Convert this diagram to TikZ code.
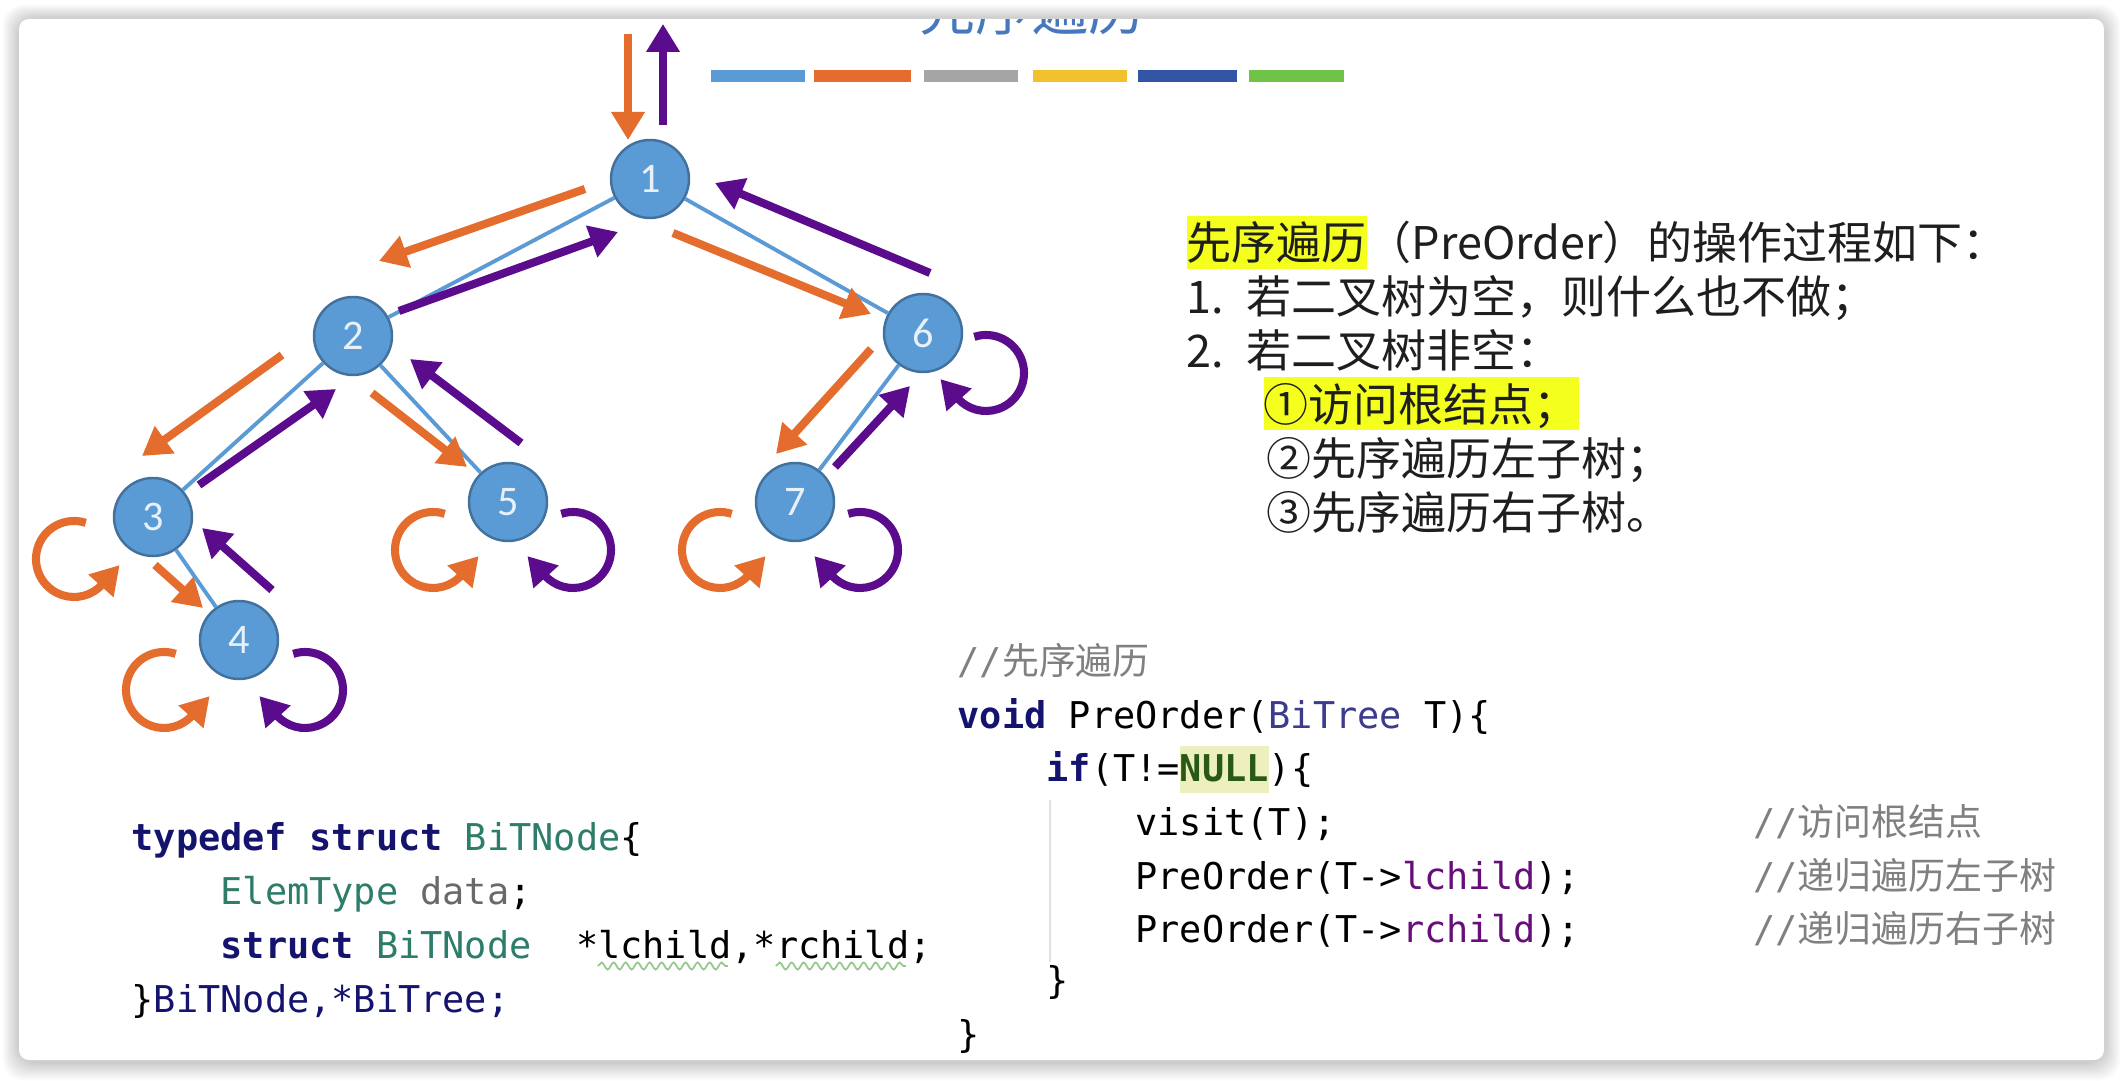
\documentclass[tikz,border=0pt]{standalone}
\usepackage{fontspec}
\setmainfont{Noto Sans CJK SC}
\setmonofont{DejaVu Sans Mono}
\newfontfamily\cjkfont{Noto Sans CJK SC}
\newfontfamily\numfont{Carlito}
\usepackage{xcolor}
\usetikzlibrary{arrows.meta, positioning, calc, decorations.pathmorphing}

\definecolor{nodeblue}{RGB}{91,155,213}
\definecolor{nodeline}{RGB}{65,113,156}
\definecolor{nodetext}{RGB}{232,241,250}
\definecolor{goorange}{RGB}{228,108,45}
\definecolor{backpurple}{RGB}{90,12,140}
\definecolor{hilite}{RGB}{245,255,30}
\definecolor{textblack}{RGB}{30,30,30}
\definecolor{kwnavy}{RGB}{20,20,110}
\definecolor{typeteal}{RGB}{46,125,107}
\definecolor{typeslate}{RGB}{60,60,140}
\definecolor{datagray}{RGB}{105,105,105}
\definecolor{fieldpurple}{RGB}{102,14,122}
\definecolor{nullgreen}{RGB}{40,90,20}
\definecolor{nullback}{RGB}{237,239,190}
\definecolor{cmtgray}{RGB}{128,128,128}
\definecolor{guidegray}{RGB}{225,225,225}
\definecolor{squiggly}{RGB}{150,200,140}
\definecolor{titleblue}{RGB}{70,120,190}
\definecolor{barblue}{RGB}{91,155,213}
\definecolor{barorange}{RGB}{228,108,45}
\definecolor{bargray}{RGB}{165,165,165}
\definecolor{baryellow}{RGB}{242,193,46}
\definecolor{bardark}{RGB}{50,85,165}
\definecolor{bargreen}{RGB}{110,195,72}

\newcommand{\yhl}[1]{{\setlength{\fboxsep}{0pt}\colorbox{hilite}{\rule[-0.9mm]{0pt}{5.3mm}#1}}}
\newcommand{\nullhl}[1]{{\setlength{\fboxsep}{0pt}\colorbox{nullback}{\rule[-1.1mm]{0pt}{4.7mm}#1}}}

\begin{document}
\begin{tikzpicture}[>={Triangle[length=2.8mm,width=3.2mm]}]
 \tikzstyle{treenode}=[circle,fill=nodeblue,draw=nodeline,line width=0.7pt,
   minimum size=7.8mm,inner sep=0pt,text=nodetext,
   font=\numfont\fontsize{12}{12}\selectfont]
 \tikzstyle{branch}=[draw=nodeblue,line width=1.1pt]
 \tikzstyle{godown}=[->,draw=goorange,line width=2.3pt]
 \tikzstyle{goup}=[->,draw=backpurple,line width=2.3pt]
 \tikzstyle{txt}=[anchor=base west,inner sep=0pt,text=textblack,
   font=\fontsize{12.8}{15}\selectfont]
 \tikzstyle{code}=[anchor=base west,inner sep=0pt,text=black,
   font=\ttfamily\fontsize{10.5}{12}\selectfont]
 \tikzstyle{comment}=[code,text=cmtgray]

 \useasboundingbox (0,0) rectangle (21.23,10.80);
 \fill[white] (0,0) rectangle (21.23,10.80);
 % slide panel with soft shadow
 \foreach \i in {1,...,10}
   \fill[black,opacity=0.02,rounded corners=2mm]
     (0.19-0.016*\i,0.18-0.018*\i) rectangle (21.04+0.016*\i,10.61+0.014*\i);
 \fill[white,rounded corners=1mm] (0.19,0.20) rectangle (21.04,10.61);
 \begin{scope}
  \clip[rounded corners=1mm] (0.19,0.20) rectangle (21.04,10.61);
  \node (title) [anchor=base,text=titleblue,font=\fontsize{16}{16}\selectfont]
    at (10.32,10.49) {先序遍历};
 \end{scope}

 % colour bars under the title
 \fill[barblue]   (7.11,9.98) rectangle (8.05,10.10);
 \fill[barorange] (8.14,9.98) rectangle (9.11,10.10);
 \fill[bargray]   (9.24,9.98) rectangle (10.18,10.10);
 \fill[baryellow] (10.33,9.98) rectangle (11.27,10.10);
 \fill[bardark]   (11.38,9.98) rectangle (12.37,10.10);
 \fill[bargreen]  (12.49,9.98) rectangle (13.44,10.10);

 % the tree
 \node (n1) [treenode] at (6.50,9.01) {1};
 \node (n2) [treenode] at (3.53,7.44) {2};
 \node (n6) [treenode] at (9.23,7.47) {6};
 \node (n3) [treenode] at (1.53,5.63) {3};
 \node (n5) [treenode] at (5.08,5.78) {5};
 \node (n7) [treenode] at (7.95,5.78) {7};
 \node (n4) [treenode] at (2.39,4.40) {4};
 \draw[branch] (n1) -- (n2);
 \draw[branch] (n1) -- (n6);
 \draw[branch] (n2) -- (n3);
 \draw[branch] (n2) -- (n5);
 \draw[branch] (n3) -- (n4);
 \draw[branch] (n6) -- (n7);

 % walk down (orange) and back up (purple)
 \draw[godown] ([shift={(-0.22,1.45)}]n1.center) -- ([shift={(-0.22,0.39)}]n1.center);
 \draw[goup] ([shift={(0.13,0.54)}]n1.center) -- ([shift={(0.13,1.55)}]n1.center);
 \draw[godown] ([shift={(-0.65,-0.10)}]n1.center) -- ([shift={(0.26,0.75)}]n2.center);
 \draw[goup] ([shift={(0.46,0.25)}]n2.center) -- ([shift={(-0.32,-0.53)}]n1.center);
 \draw[godown] ([shift={(0.23,-0.54)}]n1.center) -- ([shift={(-0.52,0.19)}]n6.center);
 \draw[goup] ([shift={(0.07,0.60)}]n6.center) -- ([shift={(0.65,-0.04)}]n1.center);
 \draw[godown] ([shift={(-0.71,-0.19)}]n2.center) -- ([shift={(-0.11,0.61)}]n3.center);
 \draw[goup] ([shift={(0.46,0.32)}]n3.center) -- ([shift={(-0.17,-0.53)}]n2.center);
 \draw[godown] ([shift={(0.19,-0.57)}]n2.center) -- ([shift={(-0.41,0.35)}]n5.center);
 \draw[goup] ([shift={(0.13,0.59)}]n5.center) -- ([shift={(0.57,-0.23)}]n2.center);
 \draw[godown] ([shift={(-0.52,-0.16)}]n6.center) -- ([shift={(-0.19,0.48)}]n7.center);
 \draw[goup] ([shift={(0.40,0.35)}]n7.center) -- ([shift={(-0.13,-0.53)}]n6.center);
 \draw[godown] ([shift={(0.02,-0.48)}]n3.center) -- ([shift={(-0.36,0.32)}]n4.center);
 \draw[goup] ([shift={(0.33,0.50)}]n4.center) -- ([shift={(0.49,-0.11)}]n3.center);

 % empty subtrees: turn round
 \draw[godown] ([shift={(-0.79,-0.42)}]n3.center) ++(72:0.38)
   arc[start angle=72,end angle=318,radius=0.38] -- ++(48:0.26);
 \draw[godown] ([shift={(-0.75,-0.50)}]n4.center) ++(72:0.38)
   arc[start angle=72,end angle=318,radius=0.38] -- ++(48:0.26);
 \draw[goup] ([shift={(0.66,-0.50)}]n4.center) ++(108:0.38)
   arc[start angle=108,end angle=-138,radius=0.38] -- ++(132:0.26);
 \draw[godown] ([shift={(-0.75,-0.48)}]n5.center) ++(72:0.38)
   arc[start angle=72,end angle=318,radius=0.38] -- ++(48:0.26);
 \draw[goup] ([shift={(0.65,-0.48)}]n5.center) ++(108:0.38)
   arc[start angle=108,end angle=-138,radius=0.38] -- ++(132:0.26);
 \draw[goup] ([shift={(0.63,-0.40)}]n6.center) ++(108:0.38)
   arc[start angle=108,end angle=-138,radius=0.38] -- ++(132:0.26);
 \draw[godown] ([shift={(-0.75,-0.48)}]n7.center) ++(72:0.38)
   arc[start angle=72,end angle=318,radius=0.38] -- ++(48:0.26);
 \draw[goup] ([shift={(0.65,-0.48)}]n7.center) ++(108:0.38)
   arc[start angle=108,end angle=-138,radius=0.38] -- ++(132:0.26);

 % the steps
 \node (head) [txt] at (11.86,8.20) {\yhl{先序遍历}（PreOrder）的操作过程如下：};
 \node (step1) [txt] at ([yshift=-5.4mm]head.base west)
   {\makebox[6mm][l]{1.}若二叉树为空，则什么也不做；};
 \node (step2) [txt] at ([yshift=-5.4mm]step1.base west)
   {\makebox[6mm][l]{2.}若二叉树非空：};
 \node (visit) [txt] at ([xshift=7.7mm,yshift=-5.35mm]step2.base west)
   {\yhl{①访问根结点；}};
 \node (left) [txt] at ([xshift=0.3mm,yshift=-5.4mm]visit.base west)
   {②先序遍历左子树；};
 \node (right) [txt] at ([yshift=-5.4mm]left.base west)
   {③先序遍历右子树。};

 % the function
 \node (cmt) [comment] at (9.57,4.05) {//{\cjkfont 先序遍历}};
 \node (fn) [code] at ([yshift=-5.35mm]cmt.base west)
   {{\bfseries\color{kwnavy}void} PreOrder({\color{typeslate}BiTree} T)\{};
 \node (ifl) [code] at ([xshift=8.89mm,yshift=-5.35mm]fn.base west)
   {{\bfseries\color{kwnavy}if}(T!=\nullhl{\bfseries\color{nullgreen}NULL})\{};
 \node (vis) [code] at ([xshift=8.89mm,yshift=-5.35mm]ifl.base west) {visit(T);};
 \node (lc) [code] at ([yshift=-5.35mm]vis.base west)
   {PreOrder(T->{\color{fieldpurple}lchild});};
 \node (rc) [code] at ([yshift=-5.35mm]lc.base west)
   {PreOrder(T->{\color{fieldpurple}rchild});};
 \node (cl1) [code] at ([xshift=-8.89mm,yshift=-5.1mm]rc.base west) {\}};
 \node (cl2) [code] at ([xshift=-8.89mm,yshift=-5.4mm]cl1.base west) {\}};
 \node (cmv) [comment] at ([xshift=61.8mm]vis.base west) {//{\cjkfont 访问根结点}};
 \node (cml) [comment] at ([xshift=61.8mm]lc.base west) {//{\cjkfont 递归遍历左子树}};
 \node (cmr) [comment] at ([xshift=61.8mm]rc.base west) {//{\cjkfont 递归遍历右子树}};
 \draw[guidegray,line width=0.6pt] ([xshift=0.4mm,yshift=-1.8mm]ifl.base west)
   -- ([xshift=0.4mm,yshift=3.2mm]cl1.base west);

 % the node type
 \node (td) [code] at (1.31,2.29)
   {{\bfseries\color{kwnavy}typedef struct} {\color{typeteal}BiTNode}\{};
 \node (fd) [code] at ([xshift=8.89mm,yshift=-5.4mm]td.base west)
   {{\color{typeteal}ElemType} {\color{datagray}data};};
 \node (fp) [code] at ([yshift=-5.3mm]fd.base west)
   {{\bfseries\color{kwnavy}struct} {\color{typeteal}BiTNode}\ \ *lchild,*rchild;};
 \node (tn) [code] at ([xshift=-8.89mm,yshift=-5.4mm]fp.base west)
   {\}{\color{kwnavy}BiTNode,*BiTree;}};
 \draw[squiggly,line width=0.5pt,decorate,
   decoration={snake,amplitude=0.35mm,segment length=1.2mm}]
   ([shift={(3.78,-0.08)}]fp.base west) -- ++(1.30,0);
 \draw[squiggly,line width=0.5pt,decorate,
   decoration={snake,amplitude=0.35mm,segment length=1.2mm}]
   ([shift={(5.56,-0.08)}]fp.base west) -- ++(1.30,0);
\end{tikzpicture}
\end{document}
